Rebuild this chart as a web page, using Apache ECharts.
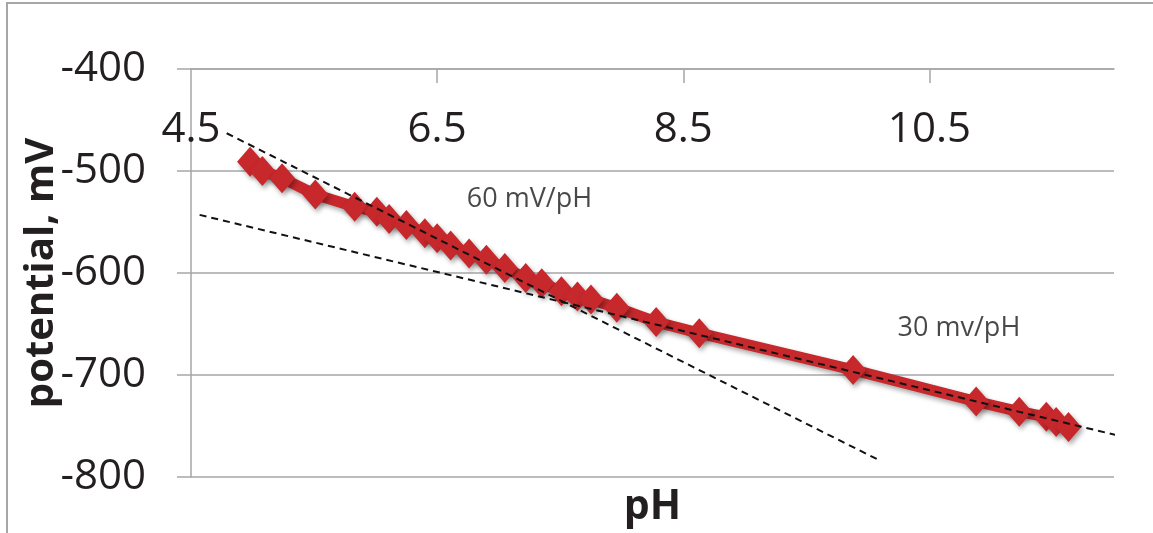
<!DOCTYPE html>
<html>
<head>
<meta charset="utf-8">
<script src="https://cdn.jsdelivr.net/npm/echarts@6/dist/echarts.min.js"></script>
<style>
  html, body { margin: 0; padding: 0; background: #fff; }
  #chart { width: 1153px; height: 533px; }
</style>
</head>
<body>
<div id="chart"></div>
<script>
// measured titration points (pH, potential in mV)
const phValues = [4.98, 5.08, 5.24, 5.51, 5.83, 6.01, 6.11, 6.25, 6.40, 6.50,
  6.61, 6.76, 6.90, 7.05, 7.22, 7.35, 7.51, 7.64, 7.75, 7.96,
  8.28, 8.63, 9.88, 10.88, 11.23, 11.45, 11.53, 11.63];
const potentials = [-491, -500, -507, -523, -535, -540, -547, -553, -561, -566,
  -573, -581, -587, -595, -605, -610, -618, -623, -626, -634,
  -648, -659, -695, -726, -736, -741, -746, -751];

// reference slopes drawn as dashed guides
const slope60 = [[4.79, -463], [10.10, -784]];
const slope30 = [[4.57, -543], [12.09, -761]];

// annotation labels
const notes = [
  { text: '60 mV/pH', at: [7.25, -528] },
  { text: '30 mv/pH', at: [10.74, -654] }
];

const xTicks = [4.5, 6.5, 8.5, 10.5];

const gray = '#a6a6a8';
const ink = '#231f20';
const red = '#c6282c';

const chart = echarts.init(document.getElementById('chart'));

chart.setOption({
  animation: false,
  textStyle: { fontFamily: 'Open Sans' },
  graphic: [{
    type: 'polyline',
    shape: { points: [[7, 533], [7, 3], [1153, 3]] },
    style: { stroke: gray, lineWidth: 2, fill: null }
  }],
  grid: { left: 191, right: 39, top: 69, bottom: 56 },
  xAxis: [{
    type: 'value',
    position: 'top',
    min: 4.5,
    max: 12,
    axisLine: { show: true, lineStyle: { color: gray, width: 1.5 } },
    axisTick: { show: true, inside: true, length: 14, customValues: xTicks.slice(1), lineStyle: { color: gray, width: 1.5 } },
    axisLabel: { inside: true, margin: 40, fontSize: 42, color: ink, customValues: xTicks },
    splitLine: { show: false }
  }, {
    type: 'value',
    position: 'bottom',
    min: 4.5,
    max: 12,
    name: 'pH',
    nameLocation: 'middle',
    nameGap: 10,
    nameTextStyle: { fontSize: 41, fontWeight: 'bold', color: ink },
    axisLine: { show: false },
    axisTick: { show: false },
    axisLabel: { show: false },
    splitLine: { show: false }
  }],
  yAxis: {
    type: 'value',
    min: -800,
    max: -400,
    interval: 100,
    name: 'potential, mV',
    nameLocation: 'middle',
    nameRotate: 90,
    nameGap: 129,
    nameMoveOverlap: false,
    nameTextStyle: { fontSize: 40, fontWeight: 'bold', color: ink },
    axisLine: { show: true, lineStyle: { color: gray, width: 1.5 } },
    axisTick: { show: true, length: 14, lineStyle: { color: gray, width: 1.5 } },
    axisLabel: { margin: 45, fontSize: 42, color: ink },
    splitLine: { show: true, lineStyle: { color: gray, width: 1.5 } }
  },
  series: [{
    type: 'line',
    data: phValues.map((p, i) => [p, potentials[i]]),
    symbol: 'diamond',
    symbolSize: [26, 30],
    z: 3,
    lineStyle: {
      color: red, width: 11,
      shadowColor: 'rgba(0,0,0,0.35)', shadowBlur: 5, shadowOffsetX: 2, shadowOffsetY: 3
    },
    itemStyle: {
      color: red,
      shadowColor: 'rgba(0,0,0,0.35)', shadowBlur: 5, shadowOffsetX: 2, shadowOffsetY: 3
    }
  }, {
    type: 'line',
    data: slope60,
    symbol: 'none',
    clip: false,
    silent: true,
    z: 4,
    lineStyle: { color: '#111', width: 2, type: [7, 5] }
  }, {
    type: 'line',
    data: slope30,
    symbol: 'none',
    clip: false,
    silent: true,
    z: 4,
    lineStyle: { color: '#111', width: 2, type: [7, 5] }
  }, {
    type: 'scatter',
    symbolSize: 0,
    silent: true,
    data: notes.map(n => ({ value: n.at, name: n.text })),
    label: {
      show: true,
      position: 'inside',
      formatter: p => p.name,
      fontSize: 27,
      color: '#1a1a1a'
    }
  }]
});
</script>
</body>
</html>
